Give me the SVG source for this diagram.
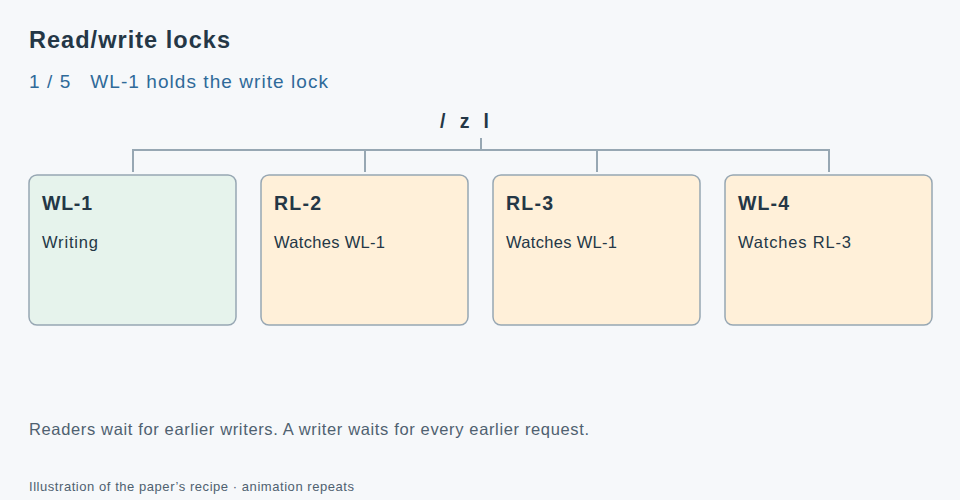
<svg xmlns="http://www.w3.org/2000/svg" width="960" height="500" viewBox="0 0 960 500">
<style>
text{font-family:"Liberation Sans",Arial,sans-serif}
.box{stroke:#97a7b3;stroke-width:1.5}
.w{fill:#e6f3ec}.r{fill:#fff0d9}
.t{font-size:19.5px;font-weight:bold;fill:#243746}
.s{font-size:16.5px;fill:#243746}
.c{fill:none;stroke:#97a7b3;stroke-width:2}
</style>
<rect width="960" height="500" fill="#f6f8fa"/>
<text x="29" y="48" font-size="23.5" font-weight="bold" fill="#243746" textLength="201" lengthAdjust="spacing">Read/write locks</text>
<text x="29" y="88" font-size="19" fill="#2f6a99" xml:space="preserve" textLength="299" lengthAdjust="spacing">1 / 5   WL-1 holds the write lock</text>
<text x="440" y="128" font-size="19.5" font-weight="bold" fill="#243746" textLength="49" lengthAdjust="spacing">/zl</text>
<g id="connectors">
<path class="c" d="M481 138V150M133 172V150H829V172M365 150V172M597 150V172"/>
</g>
<g id="wl1"><rect class="box w" x="29" y="175" width="207" height="150" rx="8"/><text class="t" x="42" y="210" textLength="50" lengthAdjust="spacing">WL-1</text><text class="s" x="42" y="248" textLength="56" lengthAdjust="spacing">Writing</text></g>
<g id="rl2"><rect class="box r" x="261" y="175" width="207" height="150" rx="8"/><text class="t" x="274" y="210" textLength="47" lengthAdjust="spacing">RL-2</text><text class="s" x="274" y="248" textLength="111" lengthAdjust="spacing">Watches WL-1</text></g>
<g id="rl3"><rect class="box r" x="493" y="175" width="207" height="150" rx="8"/><text class="t" x="506" y="210" textLength="47" lengthAdjust="spacing">RL-3</text><text class="s" x="506" y="248" textLength="111" lengthAdjust="spacing">Watches WL-1</text></g>
<g id="wl4"><rect class="box r" x="725" y="175" width="207" height="150" rx="8"/><text class="t" x="738" y="210" textLength="51" lengthAdjust="spacing">WL-4</text><text class="s" x="738" y="248" textLength="113" lengthAdjust="spacing">Watches RL-3</text></g>
<text x="29" y="435" font-size="16.5" fill="#4f6170" textLength="560" lengthAdjust="spacing">Readers wait for earlier writers. A writer waits for every earlier request.</text>
<text x="29" y="491" font-size="13" fill="#4f6170" textLength="325" lengthAdjust="spacing">Illustration of the paper’s recipe · animation repeats</text>
</svg>
